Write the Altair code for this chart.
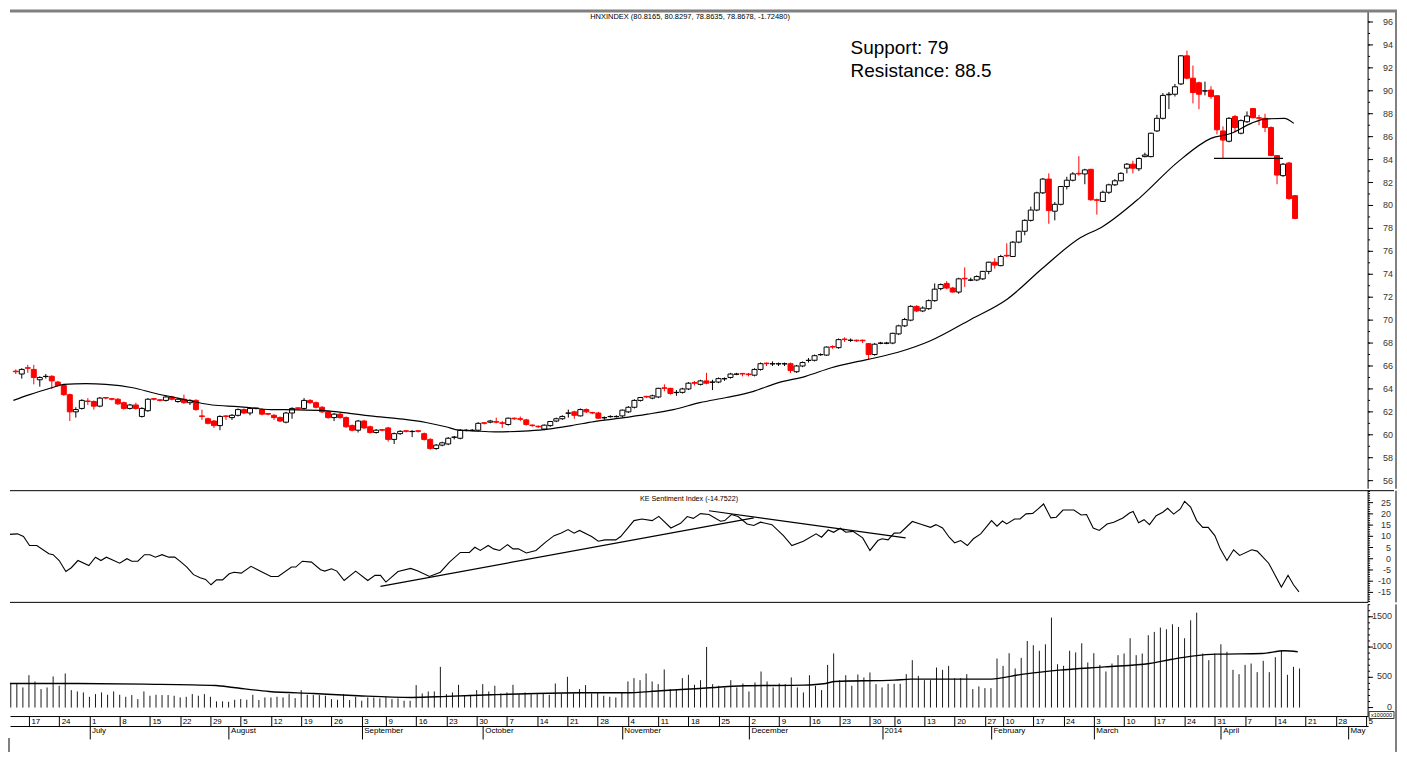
import altair as alt
import pandas as pd

# ---------------- layout ----------------
W = 1362
H_PRICE = 480
H_SENT = 112
H_VOL = 112
X_DOMAIN = [-0.13, 224.33]
FONT = "Liberation Sans"

# ---------------- price candles (trading-day index 0 = 12 Jun 2013) ----------------
open_ = [65.55, 65.3, 65.85, 65.7, 64.8, 65.08, 65.1, 64.6, 64.3, 63.5,
         62.0, 62.3, 62.95, 62.9, 62.5, 63.25, 63.15, 63.1, 62.8, 62.3,
         62.6, 61.6, 62.1, 63.15, 63.05, 63.0, 63.3, 62.9, 63.1, 62.8,
         63.0, 61.65, 61.4, 61.2, 60.8, 61.65, 61.5, 61.7, 62.2, 61.9,
         62.35, 62.2, 61.85, 61.7, 61.5, 61.1, 61.9, 62.35, 62.3, 63.0,
         62.8, 62.4, 62.0, 61.5, 61.8, 61.5, 60.8, 60.4, 61.2, 60.7,
         60.2, 60.45, 60.6, 59.6, 60.1, 60.35, 60.28, 60.35, 60.1, 59.6,
         58.8, 59.1, 59.2, 59.78, 59.7, 60.38, 60.38, 60.4, 61.05, 61.1,
         61.15, 61.05, 60.9, 61.45, 61.4, 61.3, 60.85, 60.75, 60.5, 60.8,
         61.2, 61.4, 61.88, 62.0, 61.65, 62.2, 61.95, 61.9, 61.48, 61.58,
         61.58, 61.65, 62.0, 62.4, 63.0, 63.35, 63.2, 63.3, 64.1, 64.05,
         63.68, 63.7, 64.0, 64.55, 64.4, 64.7, 64.58, 64.6, 64.88, 65.0,
         65.28, 65.35, 65.3, 65.2, 65.7, 66.25, 66.18, 66.18, 66.18, 66.2,
         65.5, 66.0, 66.48, 66.5, 66.98, 66.95, 67.7, 67.6, 68.35, 68.23,
         68.25, 68.25, 67.95, 67.0, 67.98, 67.98, 68.0, 68.8, 69.5, 70.0,
         71.2, 70.8, 71.0, 71.7, 72.75, 73.2, 72.8, 72.45, 73.65, 73.48,
         73.5, 73.6, 74.25, 75.05, 74.75, 75.65, 75.55, 76.8, 77.75, 78.7,
         79.6, 81.1, 82.3, 79.5, 80.1, 81.65, 82.2, 82.8, 82.75, 83.15,
         80.5, 80.35, 81.15, 81.8, 82.15, 83.25, 83.6, 83.2, 84.26, 84.26,
         86.5, 87.6, 89.65, 89.7, 90.6, 93.05, 91.1, 90.7, 89.98, 90.06,
         89.57, 86.5, 85.6, 87.75, 86.3, 87.3, 88.45, 87.65, 87.6, 86.8,
         84.35, 82.6, 83.7, 80.85]
high_ = [65.7, 65.8, 66.1, 66.1, 65.1, 65.3, 65.2, 64.7, 64.4, 63.6,
         62.4, 63.1, 63.2, 63.0, 63.3, 63.3, 63.2, 63.2, 62.9, 62.7,
         62.8, 62.4, 63.2, 63.2, 63.1, 63.4, 63.4, 63.2, 63.5, 63.1,
         63.1, 62.2, 61.5, 61.3, 61.7, 61.7, 61.8, 62.3, 62.3, 62.4,
         62.4, 62.3, 61.9, 61.8, 61.6, 62.0, 62.4, 62.4, 63.2, 63.1,
         62.9, 62.5, 62.1, 61.9, 61.9, 61.6, 60.9, 61.3, 61.3, 60.8,
         60.5, 60.5, 60.7, 60.2, 60.4, 60.4, 60.4, 60.4, 60.2, 59.7,
         59.2, 59.4, 59.8, 59.9, 60.5, 60.5, 60.5, 61.1, 61.1, 61.3,
         61.5, 61.2, 61.5, 61.5, 61.6, 61.4, 60.9, 60.8, 60.9, 61.2,
         61.5, 61.7, 62.2, 62.1, 62.3, 62.3, 62.0, 62.0, 61.6, 61.7,
         61.7, 62.2, 62.5, 63.1, 63.3, 63.4, 63.5, 64.1, 64.4, 64.1,
         63.9, 64.1, 64.6, 64.7, 64.8, 65.4, 64.8, 65.0, 65.0, 65.4,
         65.4, 65.4, 65.4, 65.8, 66.3, 66.3, 66.4, 66.3, 66.3, 66.3,
         66.1, 66.4, 66.7, 67.0, 67.1, 67.7, 67.8, 68.4, 68.5, 68.4,
         68.3, 68.3, 68.0, 68.0, 68.1, 68.1, 68.9, 69.6, 70.2, 71.3,
         71.3, 71.2, 71.8, 73.2, 73.2, 73.4, 72.9, 73.7, 74.6, 73.7,
         73.9, 74.3, 75.1, 75.4, 75.7, 76.7, 76.9, 77.8, 78.8, 79.9,
         81.2, 82.4, 82.8, 80.3, 81.7, 82.5, 82.9, 84.3, 83.2, 83.2,
         80.6, 81.3, 81.9, 82.3, 82.9, 83.7, 83.9, 84.2, 84.6, 86.35,
         87.9, 89.8, 89.9, 90.6, 93.1, 93.5, 92.2, 90.8, 90.8, 90.4,
         89.6, 86.9, 87.7, 87.9, 87.5, 88.2, 88.5, 87.9, 88.0, 86.9,
         84.4, 83.7, 83.8, 80.9]
low_ = [65.3, 64.9, 65.4, 64.4, 64.2, 64.9, 64.0, 64.2, 63.4, 61.2,
        61.5, 62.2, 62.6, 62.2, 62.4, 63.1, 63.0, 62.6, 62.2, 62.2,
        62.2, 61.5, 62.0, 63.0, 62.9, 62.9, 63.0, 62.8, 62.7, 62.6,
        62.1, 61.3, 60.9, 60.6, 60.4, 61.3, 61.3, 61.6, 61.8, 61.7,
        62.2, 61.7, 61.7, 61.3, 61.1, 61.0, 61.4, 62.2, 62.2, 62.7,
        62.3, 61.9, 61.4, 61.2, 61.4, 60.6, 60.3, 60.2, 60.5, 60.1,
        60.1, 60.3, 59.4, 59.2, 60.0, 60.2, 59.8, 60.2, 59.5, 58.7,
        58.7, 59.0, 59.1, 59.6, 59.6, 60.3, 60.3, 60.3, 60.9, 61.0,
        61.0, 60.6, 60.8, 61.3, 61.2, 60.8, 60.7, 60.6, 60.4, 60.7,
        61.1, 61.3, 61.5, 61.4, 61.6, 61.9, 61.8, 61.4, 61.3, 61.5,
        61.5, 61.5, 61.9, 62.3, 62.9, 63.2, 63.1, 63.2, 63.8, 63.5,
        63.4, 63.6, 63.9, 64.3, 64.3, 64.4, 63.9, 64.5, 64.7, 64.9,
        65.2, 65.1, 65.1, 65.1, 65.6, 66.0, 66.0, 66.0, 66.0, 65.4,
        65.4, 65.9, 66.3, 66.4, 66.9, 66.9, 67.5, 67.5, 68.1, 68.1,
        68.1, 68.0, 66.6, 66.9, 67.9, 67.9, 67.9, 68.7, 69.4, 69.9,
        70.7, 70.7, 70.9, 71.6, 72.6, 72.7, 72.4, 72.3, 72.9, 73.4,
        73.4, 73.5, 74.0, 74.5, 74.7, 75.5, 75.5, 76.7, 77.4, 78.6,
        79.5, 81.0, 78.4, 78.7, 80.0, 81.4, 82.1, 82.6, 81.85, 80.4,
        79.2, 80.3, 81.0, 81.7, 82.1, 82.8, 82.8, 83.0, 84.2, 84.2,
        86.4, 87.5, 88.4, 89.5, 90.5, 91.0, 88.9, 88.4, 89.6, 89.3,
        86.2, 84.1, 85.5, 86.4, 86.2, 87.2, 87.6, 87.0, 86.4, 84.3,
        81.85, 82.5, 80.5, 78.8]
close_ = [65.5, 65.7, 65.8, 65.0, 65.0, 65.1, 64.7, 64.3, 63.5, 62.0,
          62.2, 63.0, 62.9, 62.5, 63.2, 63.2, 63.1, 62.7, 62.3, 62.6,
          62.3, 62.3, 63.1, 63.1, 63.0, 63.3, 63.1, 63.1, 62.8, 63.0,
          62.2, 61.6, 61.0, 60.8, 61.6, 61.6, 61.7, 62.2, 61.9, 62.3,
          62.3, 61.8, 61.8, 61.5, 61.2, 61.9, 62.3, 62.3, 63.0, 62.8,
          62.4, 62.0, 61.5, 61.8, 61.5, 60.7, 60.4, 61.2, 60.6, 60.2,
          60.4, 60.4, 59.6, 60.1, 60.3, 60.3, 60.3, 60.3, 59.6, 58.8,
          59.1, 59.3, 59.7, 59.8, 60.4, 60.4, 60.4, 61.0, 61.0, 61.2,
          61.1, 61.0, 61.45, 61.4, 61.35, 60.9, 60.8, 60.7, 60.84, 61.16,
          61.4, 61.6, 61.9, 61.7, 62.2, 62.0, 61.9, 61.45, 61.5, 61.6,
          61.6, 62.15, 62.4, 63.0, 63.25, 63.3, 63.4, 64.05, 64.05, 63.6,
          63.7, 64.0, 64.5, 64.5, 64.7, 64.5, 64.6, 64.9, 64.9, 65.3,
          65.3, 65.3, 65.25, 65.7, 66.2, 66.2, 66.2, 66.2, 66.2, 65.6,
          66.0, 66.3, 66.5, 66.9, 67.0, 67.65, 67.65, 68.3, 68.3, 68.25,
          68.2, 68.2, 67.0, 67.9, 68.0, 68.0, 68.85, 69.5, 70.05, 71.2,
          70.8, 71.05, 71.7, 72.7, 73.1, 72.8, 72.45, 73.6, 73.6, 73.5,
          73.8, 74.25, 75.05, 74.8, 75.55, 75.6, 76.8, 77.75, 78.7, 79.6,
          81.1, 82.3, 79.55, 80.1, 81.65, 82.2, 82.75, 82.75, 83.1, 80.5,
          80.45, 81.15, 81.8, 82.15, 82.8, 83.6, 83.25, 84.1, 84.4, 86.3,
          87.6, 89.6, 89.7, 90.35, 93.05, 91.1, 89.85, 89.7, 90.0, 89.5,
          86.6, 85.7, 87.6, 86.8, 87.4, 87.8, 87.65, 87.6, 86.8, 84.35,
          82.65, 83.6, 80.6, 78.87]

# moving average of price
ma_idx = [-0.4, 2.3, 6, 8, 11.7, 15, 19.5, 23.3, 27, 32.7, 37, 42.5, 47, 51.3, 54.6,
          59, 64.5, 68.3, 71.6, 73.8, 76, 79.8, 85.4, 88.7, 92.5, 96.3, 100.7, 105.2,
          109.5, 113.9, 118.3, 122.7, 127, 131.5, 135.8, 140.3, 143, 146.9, 152.3, 159,
          165, 171, 177.3, 181, 187, 193.5, 199, 202.4, 205.7, 207.9, 211.2, 212.8]
ma_val = [63.0, 63.5, 64.1, 64.4, 64.46, 64.4, 64.1, 63.6, 63.2, 62.6, 62.46, 62.2, 62.18,
          62.1, 61.94, 61.65, 61.36, 61.07, 60.7, 60.4, 60.35, 60.25, 60.35, 60.5, 60.8,
          61.15, 61.45, 61.8, 62.2, 62.8, 63.25, 63.77, 64.55, 65.1, 65.85, 66.4, 66.7,
          67.2, 68.2, 70.06, 71.8, 74.55, 77.2, 78.17, 80.6, 83.8, 85.85, 86.3, 87.16,
          87.53, 87.6, 87.16]

support_x = [199.5, 211.0]
support_level = [84.1]

# ---------------- KE Sentiment Index ----------------
sent_idx = [-0.6, 1.1, 2.1, 3.1, 4.3, 6.3, 7.0, 8.0, 9.1, 10.0, 11.1, 12.9, 14.0, 14.9, 15.8,
            18.0, 19.2, 20.0, 21.0, 22.1, 23.0, 23.9, 25.0, 26.1, 27.1, 28.0, 29.1, 30.2,
            31.3, 32.2, 33.1, 34.0, 35.0, 36.1, 36.9, 38.1, 39.7, 41.6, 43.0, 44.2, 46.4,
            47.1, 48.2, 49.7, 51.2, 51.9, 53.0, 53.9, 55.1, 57.0, 59.0, 60.2, 61.1, 62.0,
            64.0, 66.1, 67.3, 69.2, 71.0, 72.5, 74.3, 75.8, 76.7, 77.6, 78.9, 79.8, 80.8,
            82.1, 83.0, 83.9, 85.2, 86.8, 88.4, 89.8, 90.9, 92.1, 93.1, 94.0, 95.5, 96.0,
            97.1, 98.2, 100.0, 100.8, 103.0, 104.3, 106.0, 107.1, 109.1, 110.7, 111.8,
            112.8, 114.0, 115.4, 117.3, 118.0, 119.1, 120.2, 121.7, 122.8, 123.9, 125.8,
            127.7, 129.1, 131.0, 133.1, 134.0, 135.1, 136.0, 137.1, 138.0, 139.2, 140.8,
            142.0, 143.3, 144.0, 145.0, 146.0, 147.0, 149.0, 150.3, 152.0, 152.9, 154.0,
            155.1, 156.0, 157.0, 158.1, 159.1, 160.3, 162.1, 163.0, 163.9, 164.6, 165.9,
            166.8, 167.8, 168.9, 169.8, 170.7, 171.9, 172.8, 173.9, 175.7, 176.9, 177.8,
            178.9, 179.9, 181.2, 182.3, 183.8, 184.9, 185.5, 186.4, 187.3, 188.2, 189.3,
            190.4, 191.2, 192.2, 193.3, 194.0, 195.0, 196.0, 197.0, 197.9, 199.0, 199.9,
            201.0, 202.1, 203.1, 205.1, 206.0, 207.9, 210.0, 211.1, 212.0, 212.9]
sent_val = [10.8, 11.1, 9.9, 5.9, 5.9, 2.2, 1.8, -0.8, -5.7, -4.0, -0.8, -3.0, 0.7, -0.8, 0.7,
            -2.0, 0.0, -1.1, -1.1, 1.8, 1.8, 0.7, 1.8, 0.7, 0.7, -1.2, -3.7, -7.1,
            -8.5, -9.2, -11.6, -9.4, -9.4, -6.7, -6.0, -6.4, -3.4, -6.0, -7.9, -7.9, -3.7,
            -3.7, -1.1, -1.5, -4.9, -5.5, -4.5, -5.5, -9.7, -5.5, -9.7, -7.4, -7.4, -10.4,
            -5.7, -4.3, -5.5, -7.9, -6.0, -1.5, 2.8, 2.8, 5.1, 3.7, 5.9, 4.4, 3.7,
            6.3, 4.4, 4.4, 2.6, 3.7, 7.4, 10.3, 11.4, 13.0, 11.4, 12.6, 10.6, 9.9,
            7.8, 8.4, 8.4, 9.9, 17.0, 17.7, 17.0, 18.9, 13.7, 15.8, 18.8,
            18.0, 20.1, 19.7, 16.7, 17.0, 19.7, 18.8, 15.5, 14.8, 16.3, 15.2,
            10.3, 5.9, 7.8, 11.1, 9.6, 12.8, 11.8, 13.6, 11.8, 12.2, 9.3,
            3.7, 8.1, 8.9, 8.4, 11.4, 11.5, 16.6, 15.5, 14.0, 15.2, 13.7,
            9.6, 7.1, 8.1, 5.9, 8.9, 11.1, 17.0, 14.5, 16.8, 15.5, 17.7,
            17.7, 20.0, 20.2, 22.2, 24.4, 18.2, 18.5, 21.7, 21.7, 19.5, 19.7,
            13.7, 12.6, 15.5, 16.3, 18.2, 20.4, 21.1, 16.0, 17.4, 15.2, 19.2,
            20.7, 22.5, 19.9, 22.2, 25.6, 23.0, 17.0, 14.0, 14.0, 10.3, 4.4,
            -0.8, 4.0, 1.5, 4.0, 3.4, -2.0, -12.6, -7.4, -11.6, -14.75]

# hand-drawn trend lines on the sentiment panel
trend_x0 = [61.1, 115.4]
trend_y0 = [-12.3, 21.4]
trend_x1 = [122.8, 147.9]
trend_y1 = [18.2, 9.3]

# ---------------- volume (x100000) ----------------
volume = [398, 398, 332, 535, 431, 305, 332, 514, 360, 563,
          288, 266, 250, 178, 222, 250, 211, 266, 211, 178,
          206, 140, 266, 195, 211, 206, 206, 195, 167, 178,
          222, 195, 222, 178, 102, 102, 96, 129, 140, 129,
          211, 124, 167, 167, 178, 167, 222, 156, 288, 211,
          206, 206, 195, 140, 129, 222, 124, 178, 113, 167,
          167, 151, 178, 140, 151, 113, 113, 371, 233, 266,
          266, 672, 222, 250, 376, 195, 211, 288, 387, 266,
          360, 233, 250, 376, 222, 250, 222, 222, 233, 211,
          398, 233, 508, 233, 305, 371, 233, 250, 195, 178,
          167, 250, 431, 486, 453, 563, 431, 387, 629, 305,
          305, 486, 541, 376,
          453, 1002, 387, 360, 332, 453, 332, 398, 266, 415,
          596, 431, 332, 398, 387, 497, 332, 250, 535, 360,
          288, 705, 893, 453, 535, 360, 546, 497, 580, 387,
          332, 393, 393, 393, 552, 783, 524, 453, 453, 661,
          623, 689, 486, 486, 552, 305, 349, 321, 321, 810,
          689, 898, 645, 821, 1100, 1030, 938, 1045, 1486, 716,
          689, 938, 911, 1062, 744, 898, 705, 596, 727, 866,
          893, 1145, 866, 893, 1195, 1250, 1321, 1293, 1376, 1332,
          1145, 1442, 1568, 893, 783, 893, 1045, 922, 623, 552,
          705, 727, 585, 772, 585, 832, 949, 541, 672, 645]

vol_ma_idx = [-0.35, 9.6, 22.1, 33.9, 36.8, 42.7, 50.0, 57.4, 66.2, 72.1, 79.5, 86.8, 94.2,
              101.5, 107.4, 113.9, 121.3, 131, 134.7, 136.2, 146, 148.8, 161.4, 167.4, 173.3,
              180.8, 188.2, 192, 195.6, 199.3, 206.8, 210.5, 212.7]
vol_ma_val = [398, 398, 387, 365, 332, 266, 233, 195, 167, 184, 211, 233, 244,
              244, 277, 316, 360, 371, 398, 431, 453, 469, 469, 552, 618,
              672, 727, 799, 854, 882, 893, 938, 922]

# ---------------- axis ticks ----------------
price_major = list(range(56, 97, 2))
price_minor = list(range(56, 98))
sent_major = [-15, -10, -5, 0, 5, 10, 15, 20, 25]
sent_minor = list(range(-19, 31))
vol_major = [0, 500, 1000, 1500]
vol_minor = list(range(0, 1701, 100))

week_idx = [3, 8, 13, 18, 23, 28, 33, 38, 43, 48, 53, 58, 62, 67, 72, 77, 82, 87, 92, 97,
            102, 107, 112, 117, 122, 127, 132, 137, 142, 146, 151, 156, 161, 164, 169, 174,
            179, 184, 189, 194, 199, 204, 209, 214, 219, 224]
week_lbl = ["17", "24", "1", "8", "15", "22", "29", "5", "12", "19", "26", "3", "9", "16",
            "23", "30", "7", "14", "21", "28", "4", "11", "18", "25", "2", "9", "16", "23",
            "30", "6", "13", "20", "27", "10", "17", "24", "3", "10", "17", "24", "31", "7",
            "14", "21", "28", "5"]
month_idx = [13, 36, 58, 78, 101, 122, 144, 162, 179, 200, 221]
month_lbl = ["July", "August", "September", "October", "November", "December", "2014",
             "February", "March", "April", "May"]

price_title = "HNXINDEX (80.8165, 80.8297, 78.8635, 78.8678, -1.72480)"
sent_title = "KE Sentiment Index (-14.7522)"

# ---------------- data frames ----------------
candles = pd.DataFrame({"idx": list(range(len(close_))), "open": open_, "high": high_,
                        "low": low_, "close": close_})
ma_df = pd.DataFrame({"i": ma_idx, "v": ma_val})
sup_df = pd.DataFrame({"x0": [support_x[0]], "x1": [support_x[1]], "lvl": support_level})
sent_df = pd.DataFrame({"i": sent_idx, "v": sent_val})
trend_df = pd.DataFrame({"x0": trend_x0, "y0": trend_y0, "x1": trend_x1, "y1": trend_y1})
vol_df = pd.DataFrame({"idx": list(range(len(volume))), "vol": volume})
vma_df = pd.DataFrame({"i": vol_ma_idx, "v": vol_ma_val})
one = pd.DataFrame({"k": [0]})

xscale = alt.Scale(domain=X_DOMAIN, nice=False, zero=False)
down = "datum.close < datum.open"
RED = "#ff0000"


def value_axis(major, minor, scale, height, label_x, label_dy=0):
    """Right-hand value axis: domain line, long and short ticks, labels."""
    maj = pd.DataFrame({"t": major, "lbl": [str(v) for v in major]})
    mnr = pd.DataFrame({"t": minor})
    y_maj = alt.Y("t:Q", scale=scale, axis=None)
    dom = alt.Chart(one).mark_rule(color="black", strokeWidth=1).encode(
        x=alt.value(W), y=alt.value(0), y2=alt.value(height))
    small = alt.Chart(mnr).mark_rule(color="black", strokeWidth=1).encode(
        x=alt.value(W), x2=alt.value(W + 2), y=alt.Y("t:Q", scale=scale, axis=None))
    big = alt.Chart(maj).mark_rule(color="black", strokeWidth=1).encode(
        x=alt.value(W), x2=alt.value(W + 5), y=y_maj)
    txt = alt.Chart(maj).mark_text(font=FONT, fontSize=9, align="right", baseline="middle",
                                   color="#333333", dy=label_dy).encode(
        x=alt.value(label_x), y=y_maj, text="lbl:N")
    return [dom, small, big, txt]


def deco_rule(x0, x1, y0, y1, color="black", width=1.0):
    return alt.Chart(one).mark_rule(color=color, strokeWidth=width).encode(
        x=alt.value(x0), x2=alt.value(x1), y=alt.value(y0), y2=alt.value(y1))


def deco_text(x, y, txt, size, align="center", baseline="middle"):
    return alt.Chart(one).mark_text(font=FONT, fontSize=size, align=align, baseline=baseline,
                                    color="black").encode(
        x=alt.value(x), y=alt.value(y), text=alt.value(txt))


# ---------------- price panel ----------------
py = alt.Scale(domain=[55.3, 97.04], nice=False, zero=False)

wicks = alt.Chart(candles).mark_rule(strokeWidth=1, clip=True).encode(
    x=alt.X("idx:Q", scale=xscale, axis=None),
    y=alt.Y("low:Q", scale=py, axis=None),
    y2="high:Q",
    color=alt.condition(down, alt.value(RED), alt.value("black")))
bodies = alt.Chart(candles).mark_bar(size=5, strokeWidth=1, clip=True).encode(
    x=alt.X("idx:Q", scale=xscale, axis=None),
    y=alt.Y("open:Q", scale=py, axis=None),
    y2="close:Q",
    fill=alt.condition(down, alt.value(RED), alt.value("white")),
    stroke=alt.condition(down, alt.value(RED), alt.value("black")))
ma_line = alt.Chart(ma_df).mark_line(color="black", strokeWidth=1.2, clip=True,
                                     interpolate="monotone").encode(
    x=alt.X("i:Q", scale=xscale, axis=None), y=alt.Y("v:Q", scale=py, axis=None))
support = alt.Chart(sup_df).mark_rule(color="black", strokeWidth=1.2).encode(
    x=alt.X("x0:Q", scale=xscale, axis=None), x2="x1:Q",
    y=alt.Y("lvl:Q", scale=py, axis=None))

price = alt.layer(
    wicks, bodies, ma_line, support,
    *value_axis(price_major, price_minor, py, H_PRICE, W + 25),
    deco_rule(0, W + 29, 1, 1, color="#808080", width=3),
    deco_rule(W + 28, W + 28, 0, H_PRICE, color="#808080", width=2),
    deco_text(682, 7, price_title, 7.5),
    deco_text(843, 44, "Support: 79", 19, align="left", baseline="alphabetic"),
    deco_text(843, 67, "Resistance: 88.5", 19, align="left", baseline="alphabetic"),
).properties(width=W, height=H_PRICE)

# ---------------- sentiment panel ----------------
sy = alt.Scale(domain=[-19.44, 30.33], nice=False, zero=False)
sent_line = alt.Chart(sent_df).mark_line(color="black", strokeWidth=1.1, clip=True).encode(
    x=alt.X("i:Q", scale=xscale, axis=None),
    y=alt.Y("v:Q", scale=sy, axis=None))
trends = alt.Chart(trend_df).mark_rule(color="black", strokeWidth=1.2).encode(
    x=alt.X("x0:Q", scale=xscale, axis=None), x2="x1:Q",
    y=alt.Y("y0:Q", scale=sy, axis=None), y2="y1:Q")
sent = alt.layer(
    sent_line, trends,
    *value_axis(sent_major, sent_minor, sy, H_SENT, W + 23),
    deco_rule(0, W + 26, 0, 0),
    deco_rule(0, W, H_SENT, H_SENT),
    deco_rule(W + 28, W + 28, 0, H_SENT, color="#808080", width=2),
    deco_text(681, 8, sent_title, 7.2),
).properties(width=W, height=H_SENT)

# ---------------- volume panel + date axis ----------------
vy = alt.Scale(domain=[-140, 1705], nice=False, zero=False)

week_expr = ("[" + ",".join(f"'{l}'" for l in week_lbl) + "][indexof(["
             + ",".join(str(v) for v in week_idx) + "], datum.value)]")
month_expr = ("[" + ",".join(f"'{l}'" for l in month_lbl) + "][indexof(["
              + ",".join(str(v) for v in month_idx) + "], datum.value)]")

week_axis = alt.Axis(orient="bottom", values=week_idx, labelExpr=week_expr, title=None,
                     grid=False, tickSize=10, tickColor="black", domainColor="black",
                     labelPadding=-9, labelAlign="left", labelBaseline="top", labelOffset=2,
                     labelFont=FONT, labelFontSize=8, labelColor="black",
                     labelOverlap=False, labelFlush=False)
month_axis = alt.Axis(orient="bottom", offset=10, values=month_idx, labelExpr=month_expr,
                      title=None, grid=False, tickSize=13, tickColor="black",
                      domainColor="black", labelPadding=-12, labelAlign="left",
                      labelBaseline="top", labelOffset=2, labelFont=FONT, labelFontSize=8,
                      labelColor="black", labelOverlap=False, labelFlush=False)

vol_bars = alt.Chart(vol_df).mark_rule(color="#1a1a1a", strokeWidth=1).encode(
    x=alt.X("idx:Q", scale=xscale, axis=week_axis),
    y=alt.Y("vol:Q", scale=vy, axis=None),
    y2=alt.datum(0))
vol_ma = alt.Chart(vma_df).mark_line(color="black", strokeWidth=1.4, clip=True,
                                     interpolate="monotone").encode(
    x=alt.X("i:Q", scale=xscale, axis=month_axis),
    y=alt.Y("v:Q", scale=vy, axis=None))
unit_box = alt.Chart(one).mark_rect(fill="white", stroke="black", strokeWidth=0.8).encode(
    x=alt.value(W + 1), x2=alt.value(W + 26), y=alt.value(107.5), y2=alt.value(114.5))

vol = alt.layer(
    vol_bars, vol_ma,
    *value_axis(vol_major, vol_minor, vy, H_VOL, W + 24, label_dy=-1),
    unit_box,
    deco_text(W + 13.5, 111.2, "x100000", 5.5),
    deco_rule(W + 28, W + 28, 0, H_VOL + 36, color="#808080", width=2),
    deco_rule(-1, -1, H_VOL + 22, H_VOL + 36, color="#808080", width=2),
).resolve_axis(x="independent").properties(width=W, height=H_VOL)

chart = alt.vconcat(price, sent, vol, spacing=0).properties(
    padding={"left": 0, "top": 0, "right": 0, "bottom": 0},
    background="white",
).configure_view(stroke=None)

chart.save("out.html", embed_options={"renderer": "svg", "actions": False})
